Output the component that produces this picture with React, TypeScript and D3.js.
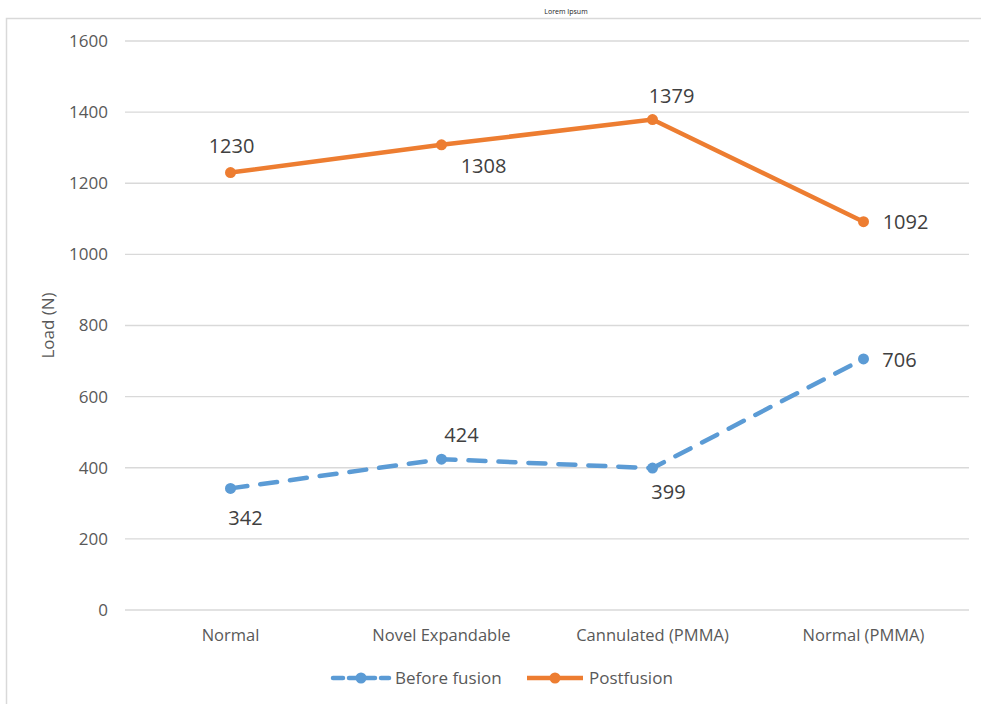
import React, { useEffect, useRef } from 'react';
import * as d3 from 'd3';

const categories = ['Normal', 'Novel Expandable', 'Cannulated (PMMA)', 'Normal (PMMA)'];
const beforeFusion = [342, 424, 399, 706];
const postfusion = [1230, 1308, 1379, 1092];
const yTicks = [0, 200, 400, 600, 800, 1000, 1200, 1400, 1600];
// label placement per point: dx, dy relative to the marker
const beforeLabelPos = [[15, 30], [20, -24], [16, 24], [36, 1]];
const postLabelPos = [[1, -27], [42, 21], [19, -24], [42, 0]];

const W = 981;
const H = 704;
const margin = { top: 41, right: 12, bottom: 94, left: 125 };

export default function App() {
  const ref = useRef<SVGSVGElement>(null);

  useEffect(() => {
    const svg = d3.select(ref.current);
    svg.selectAll('*').remove();

    const font = 'Open Sans, Noto Sans, sans-serif';
    const innerW = W - margin.left - margin.right;
    const innerH = H - margin.top - margin.bottom;

    // chart area border
    svg.append('rect')
      .attr('x', 6.5).attr('y', 18.5)
      .attr('width', W + 10).attr('height', H + 10)
      .attr('fill', 'white')
      .attr('stroke', '#d9d9d9').attr('stroke-width', 1.5);

    svg.append('text')
      .attr('x', 566).attr('y', 14)
      .attr('text-anchor', 'middle')
      .attr('font-family', font).attr('font-size', 7)
      .attr('fill', '#222')
      .text('Lorem Ipsum');

    const g = svg.append('g').attr('transform', `translate(${margin.left},${margin.top})`);

    const x = d3.scaleBand().domain(categories).range([0, innerW]).padding(0);
    const y = d3.scaleLinear().domain([0, 1600]).range([innerH, 0]);

    // gridlines
    g.selectAll('line.grid')
      .data(yTicks)
      .enter().append('line')
      .attr('class', 'grid')
      .attr('x1', 0).attr('x2', innerW)
      .attr('y1', d => y(d)).attr('y2', d => y(d))
      .attr('stroke', '#d9d9d9').attr('stroke-width', 1.3);

    g.selectAll('text.ytick')
      .data(yTicks)
      .enter().append('text')
      .attr('class', 'ytick')
      .attr('x', -17).attr('y', d => y(d))
      .attr('dy', '0.35em')
      .attr('text-anchor', 'end')
      .attr('font-family', font).attr('font-size', 17)
      .attr('fill', '#595959')
      .text(d => d);

    g.selectAll('text.xtick')
      .data(categories)
      .enter().append('text')
      .attr('class', 'xtick')
      .attr('x', d => (x(d) as number) + x.bandwidth() / 2)
      .attr('y', innerH + 31)
      .attr('text-anchor', 'middle')
      .attr('font-family', font).attr('font-size', 16.5)
      .attr('fill', '#595959')
      .text(d => d);

    svg.append('text')
      .attr('transform', `translate(54,${margin.top + innerH / 2}) rotate(-90)`)
      .attr('text-anchor', 'middle')
      .attr('font-family', font).attr('font-size', 17)
      .attr('fill', '#595959')
      .text('Load (N)');

    const cx = (i: number) => (x(categories[i]) as number) + x.bandwidth() / 2;
    const line = d3.line<number>().x((d, i) => cx(i)).y(d => y(d));

    const series = [
      { data: beforeFusion, color: '#5b9bd5', dash: '17 13', labels: beforeLabelPos },
      { data: postfusion, color: '#ed7d31', dash: null, labels: postLabelPos },
    ];

    series.forEach(s => {
      g.append('path')
        .datum(s.data)
        .attr('d', line)
        .attr('fill', 'none')
        .attr('stroke', s.color)
        .attr('stroke-width', 4.5)
        .attr('stroke-linecap', s.dash ? 'round' : 'butt')
        .attr('stroke-dasharray', s.dash);
      g.selectAll(null)
        .data(s.data)
        .enter().append('circle')
        .attr('cx', (d, i) => cx(i)).attr('cy', d => y(d))
        .attr('r', 5.5).attr('fill', s.color);
      g.selectAll(null)
        .data(s.data)
        .enter().append('text')
        .attr('x', (d, i) => cx(i) + s.labels[i][0])
        .attr('y', (d, i) => y(d) + s.labels[i][1])
        .attr('dy', '0.35em')
        .attr('text-anchor', 'middle')
        .attr('font-family', font).attr('font-size', 20)
        .attr('fill', '#404040')
        .text(d => d);
    });

    // legend
    const legend = [
      { name: 'Before fusion', color: '#5b9bd5', dash: '10 6', x0: 333 },
      { name: 'Postfusion', color: '#ed7d31', dash: null, x0: 527 },
    ];
    const ly = 678;
    legend.forEach(l => {
      svg.append('line')
        .attr('x1', l.x0).attr('x2', l.x0 + 56)
        .attr('y1', ly).attr('y2', ly)
        .attr('stroke', l.color).attr('stroke-width', 4.5)
        .attr('stroke-linecap', l.dash ? 'round' : 'butt')
        .attr('stroke-dasharray', l.dash);
      svg.append('circle')
        .attr('cx', l.x0 + 28).attr('cy', ly).attr('r', 5.5)
        .attr('fill', l.color);
      svg.append('text')
        .attr('x', l.x0 + 62).attr('y', ly)
        .attr('dy', '0.35em')
        .attr('font-family', font).attr('font-size', 17)
        .attr('fill', '#595959')
        .text(l.name);
    });
  }, []);

  return (
    <svg ref={ref} width={W} height={H} style={{ position: 'absolute', left: 0, top: 0 }} />
  );
}
